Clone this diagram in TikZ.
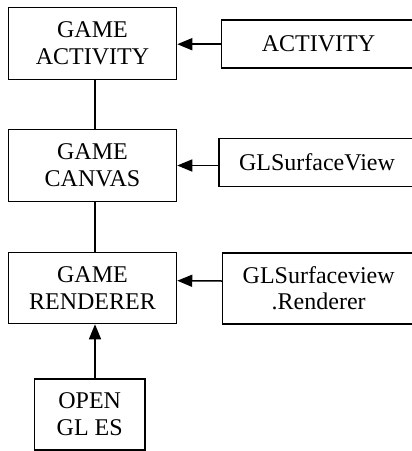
\documentclass[tikz,border=0pt]{standalone}
\usepackage{fontspec}
\setmainfont{Liberation Serif}
\usetikzlibrary{arrows.meta}

\begin{document}
\begin{tikzpicture}[x=1pt, y=-1pt, line width=1.5pt,
  blk/.style={draw, align=center, inner sep=0pt, font=\fontsize{24}{26.7}\selectfont},
  arr/.style={-{Triangle[length=15pt,width=12pt]}}]
\useasboundingbox (0,0) rectangle (412,451);
\clip (0,0) rectangle (412,451);
% left column
\node[blk, minimum width=168pt, minimum height=72pt] (gameact)    at (92.5, 43.3) {GAME\\ACTIVITY};
\node[blk, minimum width=168pt, minimum height=72pt] (gamecanvas) at (92.5,165.5) {GAME\\CANVAS};
\node[blk, minimum width=168pt, minimum height=71pt] (gamerend)   at (92.5,288.0) {GAME\\RENDERER};
\node[blk, minimum width=110.5pt, minimum height=71pt] (opengl)   at (89.7,414.5) {OPEN\\GL ES};
% right column (cut off by the page edge)
\node[blk, minimum width=210pt, minimum height=48pt] (act)    at (326.5, 44.2) {\hspace*{-16pt}ACTIVITY};
\node[blk, minimum width=212pt, minimum height=48pt] (glview) at (325.0,162.5) {\hspace*{-16pt}GLSurfaceView};
\node[blk, minimum width=208pt, minimum height=71pt] (glrend) at (326.7,288.3) {\hspace*{-16pt}GLSurfaceview\\\hspace*{-16pt}.Renderer};
% connectors
\coordinate (spine) at (95,0);
\draw (spine |- gameact.south) -- (spine |- gamecanvas.north);
\draw (spine |- gamecanvas.south) -- (spine |- gamerend.north);
\draw[arr] (spine |- opengl.north) -- (spine |- gamerend.south);
\draw[arr] (act.west) -- (act.west -| gameact.east);
\draw[arr] (glview.west |- gamecanvas) -- (gamecanvas.east);
\draw[arr] ([yshift=7.3pt]glrend.west) -- ([yshift=7.3pt]gamerend.east);
\end{tikzpicture}
\end{document}
